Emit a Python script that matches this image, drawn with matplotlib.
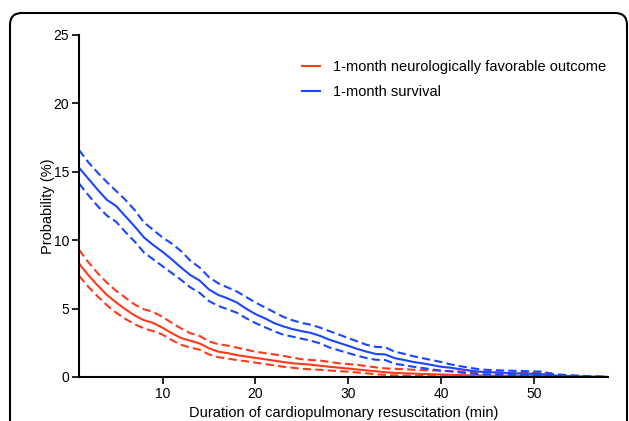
import numpy as np
import matplotlib
matplotlib.use("Agg")
import matplotlib.pyplot as plt
from matplotlib.patches import FancyBboxPatch
from matplotlib.transforms import IdentityTransform

# minutes of CPR
minutes_surv = np.arange(1, 59)
minutes_neuro = np.arange(1, 53)

surv = [15.3, 14.5, 13.7, 12.95, 12.5, 11.75, 11.0, 10.2, 9.65, 9.15,
        8.6, 8.0, 7.45, 7.05, 6.4, 6.0, 5.75, 5.45, 5.0, 4.6,
        4.3, 3.95, 3.7, 3.5, 3.35, 3.22, 3.0, 2.72, 2.5, 2.28,
        2.05, 1.85, 1.68, 1.65, 1.38, 1.25, 1.1, 1.0, 0.88, 0.75,
        0.68, 0.58, 0.48, 0.4, 0.36, 0.33, 0.3, 0.27, 0.25, 0.23,
        0.2, 0.12, 0.08, 0.06, 0.04, 0.03, 0.02, 0.01]
surv_hi = [16.6, 15.7, 14.95, 14.25, 13.6, 12.95, 12.2, 11.3, 10.75, 10.2,
           9.75, 9.2, 8.5, 8.0, 7.3, 6.85, 6.55, 6.25, 5.85, 5.45,
           5.1, 4.75, 4.4, 4.15, 3.95, 3.82, 3.6, 3.35, 3.1, 2.85,
           2.6, 2.35, 2.2, 2.17, 1.85, 1.7, 1.52, 1.38, 1.24, 1.1,
           0.93, 0.8, 0.68, 0.58, 0.52, 0.49, 0.47, 0.45, 0.43, 0.41,
           0.39, 0.22, 0.17, 0.13, 0.1, 0.06, 0.04, 0.02]
surv_lo = [14.15, 13.3, 12.5, 11.8, 11.35, 10.6, 9.9, 9.1, 8.6, 8.1,
           7.6, 7.1, 6.55, 6.15, 5.55, 5.2, 4.95, 4.7, 4.3, 3.95,
           3.65, 3.35, 3.1, 2.95, 2.8, 2.65, 2.45, 2.15, 1.95, 1.75,
           1.55, 1.38, 1.26, 1.24, 0.97, 0.87, 0.75, 0.66, 0.56, 0.46,
           0.42, 0.34, 0.26, 0.22, 0.19, 0.17, 0.16, 0.15, 0.14, 0.12,
           0.1, 0.06, 0.04, 0.03, 0.02, 0.01, 0.01, 0.0]

neuro = [8.3, 7.45, 6.7, 6.0, 5.45, 4.95, 4.5, 4.15, 3.95, 3.6,
         3.2, 2.85, 2.65, 2.45, 2.1, 1.85, 1.75, 1.6, 1.5, 1.4,
         1.3, 1.2, 1.1, 1.0, 0.95, 0.9, 0.82, 0.75, 0.68, 0.62,
         0.55, 0.48, 0.42, 0.35, 0.3, 0.27, 0.25, 0.22, 0.2, 0.18,
         0.16, 0.14, 0.12, 0.11, 0.1, 0.1, 0.09, 0.09, 0.08, 0.08,
         0.07, 0.07]
neuro_hi = [9.3, 8.4, 7.6, 6.9, 6.3, 5.8, 5.3, 4.95, 4.75, 4.4,
            3.95, 3.55, 3.2, 3.0, 2.6, 2.4, 2.3, 2.15, 2.0, 1.85,
            1.75, 1.65, 1.55, 1.42, 1.3, 1.24, 1.2, 1.1, 1.0, 0.95,
            0.88, 0.8, 0.7, 0.63, 0.6, 0.57, 0.53, 0.5, 0.48, 0.46,
            0.43, 0.4, 0.37, 0.35, 0.33, 0.32, 0.31, 0.3, 0.3, 0.29,
            0.28, 0.27]
neuro_lo = [7.4, 6.6, 5.9, 5.25, 4.7, 4.25, 3.85, 3.55, 3.35, 3.1,
            2.7, 2.35, 2.15, 2.0, 1.65, 1.45, 1.35, 1.24, 1.15, 1.05,
            0.95, 0.85, 0.75, 0.68, 0.6, 0.56, 0.52, 0.47, 0.43, 0.39,
            0.33, 0.27, 0.2, 0.15, 0.12, 0.1, 0.08, 0.07, 0.06, 0.05,
            0.05, 0.05, 0.04, 0.04, 0.04, 0.03, 0.03, 0.03, 0.03, 0.02,
            0.02, 0.02]

red = "#ff3a1c"
blue = "#1a46ff"

plt.rcParams['font.family'] = ['Liberation Sans', 'DejaVu Sans']

fig = plt.figure(figsize=(6.29, 4.21), dpi=100)
ax = fig.add_axes([79/629, 1-377/421, (608-79)/629, (377-35)/421])

dash = (0, (4, 2))
ax.plot(minutes_neuro, neuro, color=red, lw=1.5, label="1-month neurologically favorable outcome")
ax.plot(minutes_neuro, neuro_hi, color=red, lw=1.5, ls=dash)
ax.plot(minutes_neuro, neuro_lo, color=red, lw=1.5, ls=dash)
ax.plot(minutes_surv, surv, color=blue, lw=1.5, label="1-month survival")
ax.plot(minutes_surv, surv_hi, color=blue, lw=1.5, ls=dash)
ax.plot(minutes_surv, surv_lo, color=blue, lw=1.5, ls=dash)

ax.set_xlim(1, 58)
ax.set_ylim(0, 25)
ax.set_xticks([10, 20, 30, 40, 50])
ax.set_yticks([0, 5, 10, 15, 20, 25])
for s in ["top", "right"]:
    ax.spines[s].set_visible(False)
for s in ["left", "bottom"]:
    ax.spines[s].set_linewidth(1.5)
ax.tick_params(axis='both', direction='out', length=5, width=1.2, labelsize=10, pad=2)
ax.set_xlabel("Duration of cardiopulmonary resuscitation (min)", fontsize=10.5, labelpad=4)
ax.set_ylabel("Probability (%)", fontsize=10.5, labelpad=-1)

leg = ax.legend(loc='upper left', bbox_to_anchor=(223/529, 1-25/342), frameon=False,
                fontsize=10.5, handlelength=1.25, handletextpad=0.9, labelspacing=0.78,
                borderaxespad=0, borderpad=0)

box = FancyBboxPatch((10, -30), 617, 421 - 13 + 30,
                     boxstyle="round,pad=0,rounding_size=12",
                     transform=IdentityTransform(), fill=False, lw=1.5, ec="black")
fig.patches.append(box)

fig.savefig("out.png", dpi=100)
